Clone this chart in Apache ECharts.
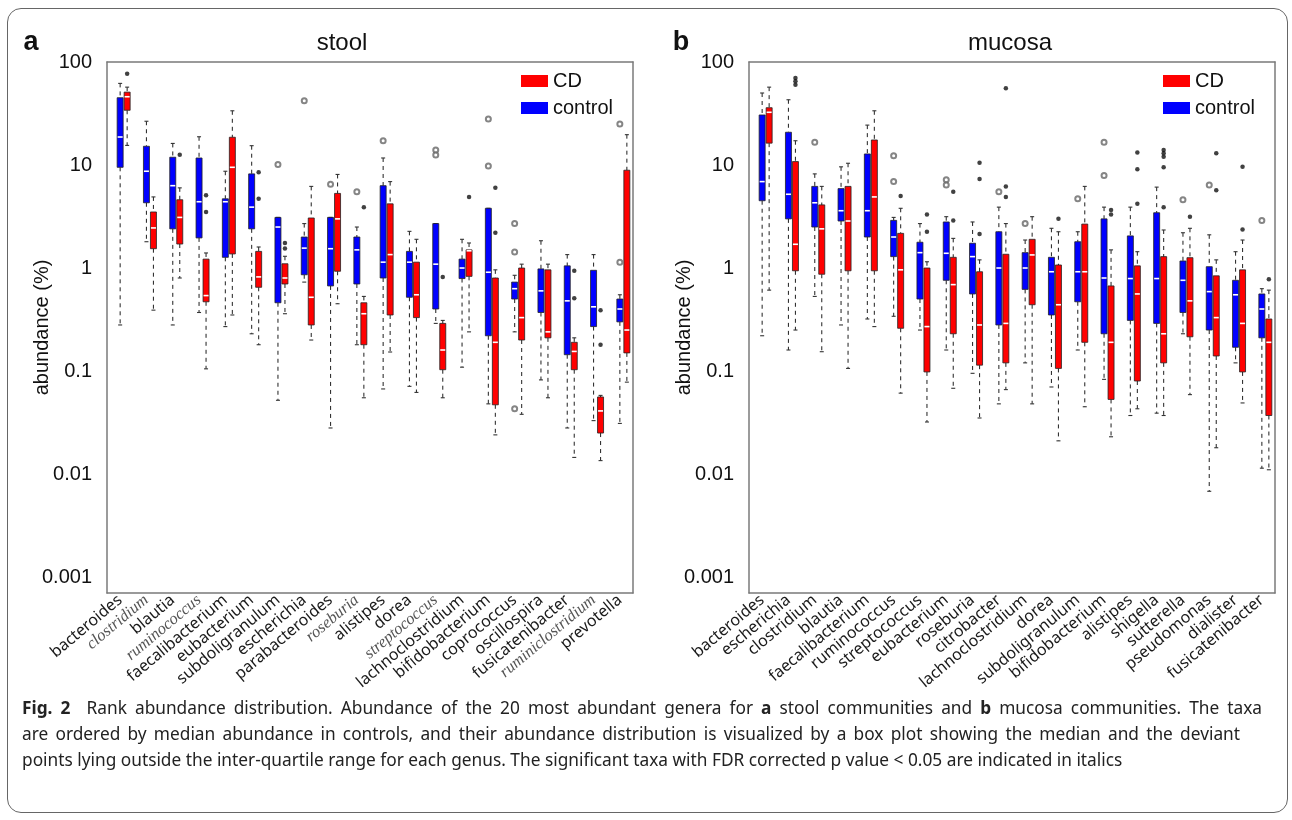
<!DOCTYPE html>
<html lang="en">
<head>
<meta charset="UTF-8">
<script src="https://cdn.jsdelivr.net/npm/echarts@6/dist/echarts.min.js"></script>
<title>Rank abundance distribution</title>
<style>
  body { margin: 0; background: #fff; }
  #frame { position: absolute; left: 7px; top: 8px; width: 1279px; height: 803px; border: 1.5px solid #666; border-radius: 14px; }
  #main { position: absolute; left: 0; top: 0; width: 1292px; height: 820px; }
  .cap { position: absolute; left: 22px; font-family: "Noto Sans", sans-serif; font-size: 17.3px; color: #222; white-space: nowrap; line-height: 26px; }
  .just { text-align: justify; text-align-last: justify; }
</style>
</head>
<body>
<div id="frame"></div>
<div id="main"></div>
<div class="cap just" style="top:695px;width:1240px"><b>Fig. 2</b>&nbsp; Rank abundance distribution. Abundance of the 20 most abundant genera for <b>a</b> stool communities and <b>b</b> mucosa communities. The taxa</div>
<div class="cap just" style="top:721px;width:1218px">are ordered by median abundance in controls, and their abundance distribution is visualized by a box plot showing the median and the deviant</div>
<div class="cap" style="top:747px">points lying outside the inter-quartile range for each genus. The significant taxa with FDR corrected p value &lt; 0.05 are indicated in italics</div>
<script type="text/javascript">
    // genera, ordered by median abundance in controls
    var stoolGenera = ['bacteroides', 'clostridium', 'blautia', 'ruminococcus', 'faecalibacterium', 'eubacterium',
        'subdoligranulum', 'escherichia', 'parabacteroides', 'roseburia', 'alistipes', 'dorea', 'streptococcus',
        'lachnoclostridium', 'bifidobacterium', 'coprococcus', 'oscillospira', 'fusicatenibacter', 'ruminiclostridium', 'prevotella'];
    var stoolSignificant = ['clostridium', 'ruminococcus', 'roseburia', 'streptococcus', 'ruminiclostridium'];
    var mucosaGenera = ['bacteroides', 'escherichia', 'clostridium', 'blautia', 'faecalibacterium', 'ruminococcus',
        'streptococcus', 'eubacterium', 'roseburia', 'citrobacter', 'lachnoclostridium', 'dorea', 'subdoligranulum',
        'bifidobacterium', 'alistipes', 'shigella', 'sutterella', 'pseudomonas', 'dialister', 'fusicatenibacter'];

    // [whisker low, q1, median, q3, whisker high] in %
    var stoolControl = [
        [0.28, 9.5, 18.7, 45, 62], [1.8, 4.3, 8.7, 15.2, 26.6], [0.28, 2.4, 6.3, 11.9, 16.2], [0.37, 1.96, 4.4, 11.7, 18.8],
        [0.27, 1.27, 4.4, 4.7, 8.7], [0.23, 2.4, 3.9, 8.2, 15.4], [0.052, 0.46, 2.5, 3.1, 3.1], [0.73, 0.86, 1.56, 2.0, 2.7],
        [0.028, 0.67, 1.54, 3.1, 3.1], [0.18, 0.7, 1.5, 2.0, 2.5], [0.067, 0.8, 1.14, 6.3, 11.7], [0.071, 0.52, 1.14, 1.45, 2.27],
        [0.29, 0.4, 1.09, 2.7, 2.7], [0.109, 0.79, 1.0, 1.22, 1.9], [0.048, 0.22, 0.91, 3.8, 3.8], [0.24, 0.5, 0.63, 0.73, 0.85],
        [0.082, 0.37, 0.6, 0.98, 1.84], [0.028, 0.144, 0.48, 1.05, 1.35], [0.033, 0.27, 0.42, 0.95, 1.35], [0.031, 0.3, 0.4, 0.5, 0.55]
    ];
    var stoolCD = [
        [15.5, 34, 46, 51, 57], [0.39, 1.54, 2.45, 3.5, 4.9], [0.8, 1.71, 3.1, 4.6, 6.0], [0.105, 0.47, 0.54, 1.22, 1.4],
        [0.35, 1.37, 9.5, 18.6, 33.6], [0.18, 0.65, 0.82, 1.45, 1.6], [0.36, 0.7, 0.8, 1.1, 1.3], [0.2, 0.28, 0.52, 3.06, 6.2],
        [0.45, 0.93, 3.0, 5.3, 8.1], [0.055, 0.18, 0.36, 0.46, 0.53], [0.153, 0.35, 1.35, 4.2, 6.9], [0.062, 0.33, 0.55, 1.14, 1.9],
        [0.055, 0.103, 0.16, 0.29, 0.31], [0.24, 0.83, 1.47, 1.5, 1.75], [0.024, 0.047, 0.19, 0.8, 0.96], [0.038, 0.2, 0.33, 1.0, 1.09],
        [0.055, 0.21, 0.24, 0.96, 1.09], [0.0145, 0.103, 0.155, 0.19, 0.21], [0.0135, 0.025, 0.041, 0.056, 0.058], [0.078, 0.15, 0.25, 8.9, 19.7]
    ];
    var mucosaControl = [
        [0.22, 4.5, 6.9, 30.6, 50], [0.16, 3.0, 5.2, 20.8, 43], [0.53, 2.5, 4.3, 6.2, 8.2], [0.28, 2.86, 3.6, 5.9, 9.6],
        [0.32, 2.0, 3.6, 12.8, 24.4], [0.34, 1.29, 2.0, 2.9, 3.1], [0.25, 0.5, 1.41, 1.78, 2.7], [0.16, 0.76, 1.39, 2.8, 3.15],
        [0.095, 0.56, 1.29, 1.74, 2.8], [0.048, 0.28, 1.0, 2.25, 3.9], [0.12, 0.62, 1.0, 1.41, 1.87], [0.07, 0.35, 0.92, 1.27, 2.43],
        [0.16, 0.47, 0.92, 1.8, 2.25], [0.083, 0.23, 0.8, 3.0, 3.9], [0.037, 0.31, 0.79, 2.05, 3.9], [0.039, 0.29, 0.79, 3.44, 6.1],
        [0.23, 0.37, 0.76, 1.17, 2.2], [0.0068, 0.25, 0.59, 1.03, 2.1], [0.12, 0.17, 0.55, 0.76, 1.44], [0.0114, 0.21, 0.4, 0.56, 0.63]
    ];
    var mucosaCD = [
        [0.61, 16.3, 32.5, 36, 57], [0.25, 0.94, 1.7, 10.8, 17.2], [0.154, 0.87, 2.4, 4.1, 6.2], [0.106, 0.94, 2.86, 6.2, 10.4],
        [0.27, 0.94, 4.9, 17.5, 33.6], [0.061, 0.26, 0.96, 2.17, 3.8], [0.032, 0.098, 0.27, 1.0, 1.15], [0.068, 0.23, 0.69, 1.27, 1.94],
        [0.035, 0.114, 0.28, 0.92, 1.2], [0.066, 0.12, 0.29, 1.36, 2.7], [0.048, 0.44, 1.34, 1.9, 3.15], [0.021, 0.106, 0.44, 1.07, 2.25],
        [0.045, 0.19, 0.92, 2.67, 6.2], [0.023, 0.053, 0.19, 0.67, 1.5], [0.043, 0.08, 0.56, 1.05, 1.44], [0.037, 0.12, 0.23, 1.29, 2.34],
        [0.059, 0.215, 0.48, 1.26, 2.43], [0.018, 0.14, 0.33, 0.84, 1.2], [0.049, 0.098, 0.29, 0.96, 1.87], [0.011, 0.037, 0.19, 0.32, 0.61]
    ];

    // deviant points: [genus index, abundance]
    var stoolControlOut = [[6, 10.1], [7, 42], [8, 6.5], [9, 5.5], [10, 17.2], [12, 14], [12, 12.5], [14, 28], [14, 9.8],
        [15, 2.7], [15, 1.43], [15, 0.043], [19, 1.14], [19, 25]];
    var stoolCDOut = [[0, 77], [2, 12.6], [3, 5.1], [3, 3.5], [5, 8.5], [5, 4.7], [6, 1.75], [6, 1.55], [9, 3.9], [12, 0.82],
        [13, 4.9], [14, 6.0], [14, 2.2], [17, 0.94], [17, 0.51], [18, 0.39], [18, 0.18]];
    var mucosaControlOut = [[2, 16.6], [5, 12.3], [5, 6.9], [7, 7.2], [7, 6.4], [9, 5.5], [10, 2.7], [12, 4.7], [13, 16.6],
        [13, 7.9], [16, 4.6], [17, 6.4], [19, 2.9]];
    var mucosaCDOut = [[1, 70], [1, 65], [1, 60], [5, 5.0], [6, 3.3], [6, 2.25], [7, 5.5], [7, 2.9], [8, 10.5], [8, 7.3],
        [8, 2.14], [9, 55.6], [9, 6.2], [9, 4.9], [11, 3.0], [13, 3.65], [13, 3.3], [14, 13.2], [14, 9.1], [14, 4.2],
        [15, 14], [15, 13], [15, 12], [15, 9.5], [15, 3.9], [16, 3.15], [17, 13], [17, 5.7], [18, 9.6], [18, 2.37], [19, 0.78]];

    var yTicks = [0.001, 0.01, 0.1, 1, 10, 100];
    var yMin = 0.0007, yMax = 100;

    var minorTicks = [];
    for (var k = -4; k <= 1; k++) {
        for (var m = 2; m <= 9; m++) {
            var v = +(m * Math.pow(10, k)).toPrecision(3);
            if (v >= yMin && v <= yMax) minorTicks.push(v);
        }
    }

    var myChart = echarts.init(document.getElementById('main'));
    var frameColor = '#7a7a7a';
    var redOffset = 7;

    function boxRenderer(offset, fill) {
        return function (params, api) {
            var i = api.value(0);
            var lo = api.coord([i, api.value(1)]);
            var q1 = api.coord([i, api.value(2)]);
            var md = api.coord([i, api.value(3)]);
            var q3 = api.coord([i, api.value(4)]);
            var hi = api.coord([i, api.value(5)]);
            var x = lo[0] + offset;
            var hw = 3, cap = 2;
            var dash = {stroke: '#333', lineWidth: 1.1, lineDash: [4, 4]};
            var solid = {stroke: '#333', lineWidth: 1.1};
            return {
                type: 'group',
                children: [
                    {type: 'line', shape: {x1: x, y1: hi[1], x2: x, y2: q3[1]}, style: dash},
                    {type: 'line', shape: {x1: x, y1: q1[1], x2: x, y2: lo[1]}, style: dash},
                    {type: 'line', shape: {x1: x - cap, y1: hi[1], x2: x + cap, y2: hi[1]}, style: solid},
                    {type: 'line', shape: {x1: x - cap, y1: lo[1], x2: x + cap, y2: lo[1]}, style: solid},
                    {type: 'rect', shape: {x: x - hw, y: q3[1], width: hw * 2, height: q1[1] - q3[1]},
                        style: {fill: fill, stroke: '#222', lineWidth: 0.8}},
                    {type: 'line', shape: {x1: x - hw + 0.5, y1: md[1], x2: x + hw - 0.5, y2: md[1]},
                        style: {stroke: '#fff', lineWidth: 1.6}}
                ]
            };
        };
    }

    function withIndex(rows) {
        return rows.map(function (r, i) { return [i].concat(r); });
    }

    function xAxes(grid, names, italics) {
        var line = {lineStyle: {color: frameColor, width: 1.5}};
        var tick = {inside: true, alignWithLabel: true, length: 5, lineStyle: {color: frameColor}};
        return [{
            gridIndex: grid, type: 'category', data: names, position: 'bottom',
            axisLine: line, axisTick: tick,
            axisLabel: {
                rotate: 40, margin: 5, interval: 0, fontSize: 16, color: '#1a1a1a', fontFamily: 'Noto Sans',
                formatter: function (v) { return italics.indexOf(v) >= 0 ? '{it|' + v + '}' : v; },
                rich: {it: {fontFamily: 'Liberation Serif', fontStyle: 'italic', fontSize: 16.5, color: '#555'}}
            }
        }, {
            gridIndex: grid, type: 'category', data: names, position: 'top',
            axisLine: line, axisTick: tick, axisLabel: {show: false}
        }];
    }

    function yAxes(grid) {
        var base = {gridIndex: grid, type: 'log', logBase: 10, min: yMin, max: yMax, splitLine: {show: false}};
        var line = {show: true, lineStyle: {color: frameColor, width: 1.5}};
        return [
            Object.assign({}, base, {
                position: 'left', name: 'abundance (%)', nameLocation: 'middle', nameGap: 55, nameMoveOverlap: false,
                nameTextStyle: {fontSize: 20, color: '#111', fontFamily: 'Liberation Sans'},
                axisLine: line,
                axisTick: {inside: true, length: 6, customValues: yTicks, lineStyle: {color: frameColor}},
                axisLabel: {customValues: yTicks, fontSize: 20, margin: 15, color: '#111', fontFamily: 'Liberation Sans',
                    formatter: function (v) { return String(+Number(v).toPrecision(6)); }}
            }),
            Object.assign({}, base, {
                position: 'right', axisLine: line,
                axisTick: {inside: true, length: 6, customValues: yTicks, lineStyle: {color: frameColor}},
                axisLabel: {show: false}
            }),
            Object.assign({}, base, {
                position: 'left', axisLine: {show: false},
                axisTick: {inside: true, length: 3, customValues: minorTicks, lineStyle: {color: frameColor}},
                axisLabel: {show: false}
            }),
            Object.assign({}, base, {
                position: 'right', axisLine: {show: false},
                axisTick: {inside: true, length: 3, customValues: minorTicks, lineStyle: {color: frameColor}},
                axisLabel: {show: false}
            })
        ];
    }

    function panelSeries(xIdx, yIdx, control, cd, controlOut, cdOut) {
        return [{
            name: 'control', type: 'custom', xAxisIndex: xIdx, yAxisIndex: yIdx,
            itemStyle: {color: '#0000ff'}, renderItem: boxRenderer(0, '#0000ff'),
            encode: {x: 0, y: [1, 2, 3, 4, 5]}, data: withIndex(control), silent: true
        }, {
            name: 'CD', type: 'custom', xAxisIndex: xIdx, yAxisIndex: yIdx,
            itemStyle: {color: '#ff0000'}, renderItem: boxRenderer(redOffset, '#ff0000'),
            encode: {x: 0, y: [1, 2, 3, 4, 5]}, data: withIndex(cd), silent: true
        }, {
            name: 'control', type: 'scatter', xAxisIndex: xIdx, yAxisIndex: yIdx,
            symbol: 'emptyCircle', symbolSize: 5, itemStyle: {color: '#666', borderWidth: 1},
            data: controlOut, silent: true
        }, {
            name: 'CD', type: 'scatter', xAxisIndex: xIdx, yAxisIndex: yIdx,
            symbol: 'circle', symbolSize: 4.5, symbolOffset: [redOffset, 0], itemStyle: {color: '#111'},
            data: cdOut, silent: true
        }];
    }

    function legend(left) {
        return {
            left: left, top: 71, orient: 'vertical', padding: 0, itemGap: 7,
            itemWidth: 27, itemHeight: 12, icon: 'rect', data: ['CD', 'control'],
            textStyle: {fontSize: 20, color: '#111', fontFamily: 'Liberation Sans'}, selectedMode: false
        };
    }

    function label(x, text, size, weight) {
        return {
            type: 'text', x: x, y: 43,
            style: {text: text, fontSize: size, fontWeight: weight, fontFamily: 'Liberation Sans', fill: '#111',
                align: 'center', verticalAlign: 'middle'}
        };
    }

    option = {
        animation: false,
        grid: [
            {left: 107, top: 62, width: 526, height: 531},
            {left: 749, top: 62, width: 526, height: 531}
        ],
        legend: [legend(521), legend(1163)],
        graphic: [
            label(31, 'a', 27, 'bold'), label(342, 'stool', 24, 'normal'),
            label(681, 'b', 27, 'bold'), label(1010, 'mucosa', 24, 'normal')
        ],
        xAxis: xAxes(0, stoolGenera, stoolSignificant).concat(xAxes(1, mucosaGenera, [])),
        yAxis: yAxes(0).concat(yAxes(1)),
        series: panelSeries(0, 0, stoolControl, stoolCD, stoolControlOut, stoolCDOut)
            .concat(panelSeries(2, 4, mucosaControl, mucosaCD, mucosaControlOut, mucosaCDOut))
    };

    myChart.setOption(option);
</script>
</body>
</html>
